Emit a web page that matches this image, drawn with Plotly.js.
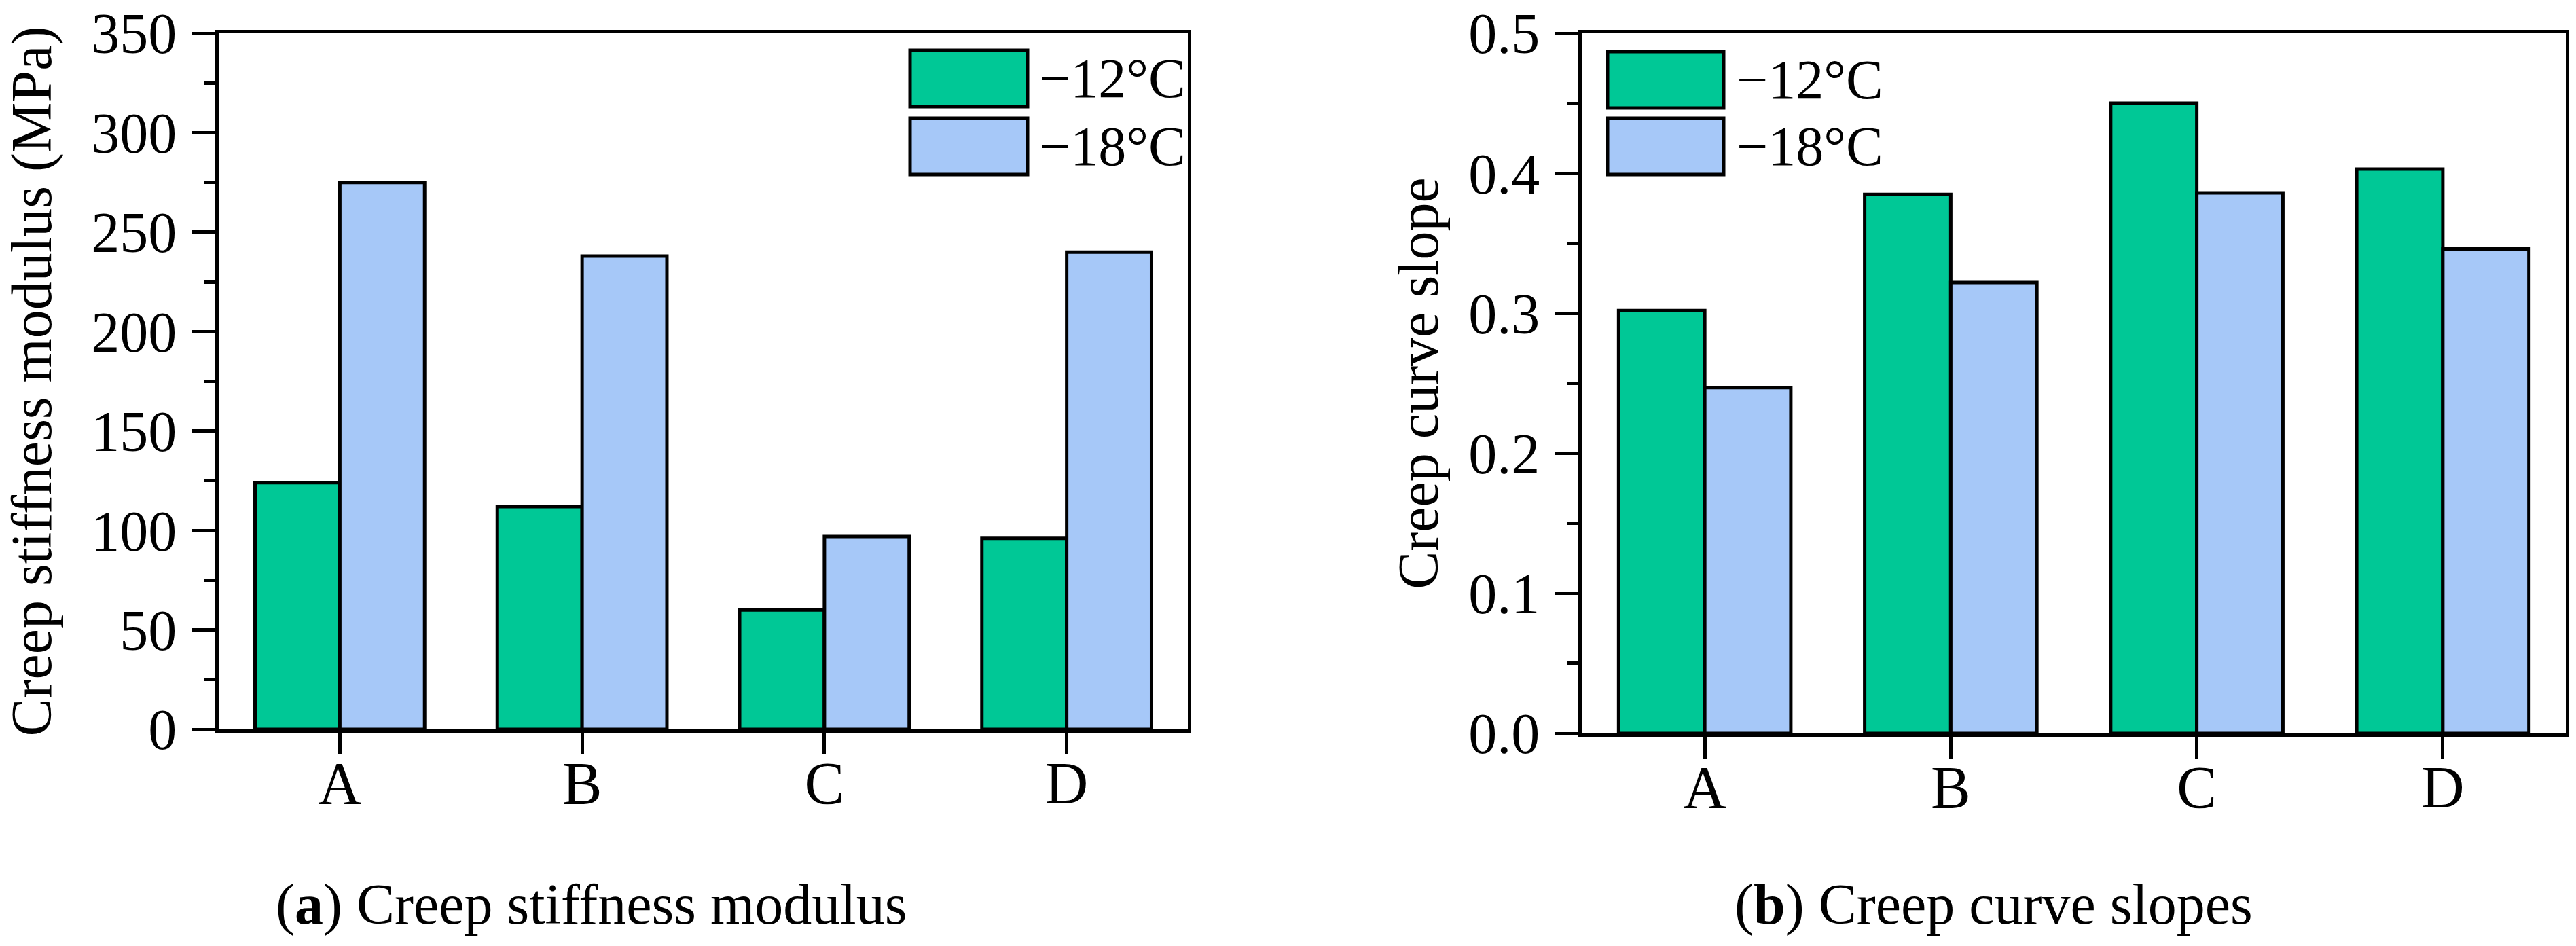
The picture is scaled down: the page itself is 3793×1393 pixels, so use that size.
<!DOCTYPE html>
<html>
<head>
<meta charset="utf-8">
<script src="https://cdn.plot.ly/plotly-3.0.1.min.js"></script>
<style>
  html, body { margin: 0; padding: 0; background: #fff; }
  #chart { width: 3793px; height: 1393px; }
</style>
</head>
<body>
<div id="chart"></div>
<script>
var CHART = document.getElementById('chart');

var categories = ['A', 'B', 'C', 'D'];
var tempNames = ['\u221212\u00b0C', '\u221218\u00b0C'];

// creep stiffness modulus (MPa)
var stiffness12 = [124, 112, 60, 96];
var stiffness18 = [275, 238, 97, 240];

// creep curve slope
var slope12 = [0.302, 0.385, 0.450, 0.403];
var slope18 = [0.247, 0.322, 0.386, 0.346];

var GREEN = '#00C896';
var BLUE = '#A6C8F8';
var FONT = 'Liberation Serif, Times New Roman, serif';

var W = 3793, H = 1393;
function px(x) { return x / W; }
function py(y) { return 1 - y / H; }

function bars(x, y, name, color, xa, ya) {
    return {
        type: 'bar',
        x: x,
        y: y,
        name: name,
        xaxis: xa,
        yaxis: ya,
        marker: {
            color: color,
            line: { color: '#000', width: 5 }
        },
        hoverinfo: 'x+y+name'
    };
}

var data = [
    bars(categories, stiffness12, tempNames[0], GREEN, 'x', 'y'),
    bars(categories, stiffness18, tempNames[1], BLUE, 'x', 'y'),
    bars(categories, slope12, tempNames[0], GREEN, 'x2', 'y2'),
    bars(categories, slope18, tempNames[1], BLUE, 'x2', 'y2')
];

function xAxis(domain, anchor) {
    return {
        domain: domain,
        anchor: anchor,
        type: 'category',
        range: [-0.5, 3.5],
        showline: true,
        mirror: true,
        linecolor: '#000',
        linewidth: 5,
        ticks: 'outside',
        ticklen: 32,
        tickwidth: 5,
        tickcolor: '#000',
        tickfont: { family: FONT, size: 88, color: '#000' },
        ticklabelstandoff: -34,
        showgrid: false,
        zeroline: false,
        fixedrange: true
    };
}

function yAxis(domain, anchor, range, dtick, fmt, title, standoff) {
    return {
        domain: domain,
        anchor: anchor,
        range: range,
        tick0: 0,
        dtick: dtick,
        tickformat: fmt,
        showline: true,
        mirror: true,
        linecolor: '#000',
        linewidth: 5,
        ticks: 'outside',
        ticklen: 34,
        tickwidth: 5,
        tickcolor: '#000',
        minor: { ticks: 'outside', ticklen: 16, tickwidth: 5, tickcolor: '#000', dtick: dtick / 2 },
        tickfont: { family: FONT, size: 84, color: '#000' },
        ticklabelstandoff: 6,
        ticklabeloverflow: 'allow',
        title: {
            text: title,
            font: { family: FONT, size: 84, color: '#000' },
            standoff: standoff
        },
        showgrid: false,
        zeroline: false,
        fixedrange: true
    };
}

// legend drawn as boxes + labels, like the original figure
function legendItems(x0, x1, rows, textX) {
    var shapes = [], notes = [];
    var colors = [GREEN, BLUE];
    rows.forEach(function (r, i) {
        shapes.push({
            type: 'rect', xref: 'paper', yref: 'paper',
            x0: px(x0), x1: px(x1), y0: py(r[1]), y1: py(r[0]),
            fillcolor: colors[i],
            line: { color: '#000', width: 5 }
        });
        notes.push({
            xref: 'paper', yref: 'paper',
            x: px(textX), y: py((r[0] + r[1]) / 2),
            xanchor: 'left', yanchor: 'middle',
            text: tempNames[i], showarrow: false,
            font: { family: FONT, size: 82, color: '#000' }
        });
    });
    return { shapes: shapes, notes: notes };
}

var legA = legendItems(1340, 1513, [[74, 157], [174, 257]], 1528);
var legB = legendItems(2367, 2538, [[76, 159], [174, 257]], 2555);

var captions = [
    {
        xref: 'paper', yref: 'paper', x: px(870), y: py(1332),
        xanchor: 'center', yanchor: 'middle', showarrow: false,
        text: '(<b>a</b>) Creep stiffness modulus',
        font: { family: FONT, size: 84, color: '#000' }
    },
    {
        xref: 'paper', yref: 'paper', x: px(2935), y: py(1332),
        xanchor: 'center', yanchor: 'middle', showarrow: false,
        text: '(<b>b</b>) Creep curve slopes',
        font: { family: FONT, size: 84, color: '#000' }
    }
];

var layout = {
    width: W,
    height: H,
    margin: { l: 0, r: 0, t: 0, b: 0 },
    paper_bgcolor: '#fff',
    plot_bgcolor: '#fff',
    showlegend: false,
    barmode: 'group',
    bargap: 0.3,
    bargroupgap: 0,
    font: { family: FONT, color: '#000' },
    xaxis: xAxis([px(322), px(1749)], 'y'),
    yaxis: yAxis([py(1074), py(49)], 'x', [0, 350], 50, 'd', 'Creep stiffness modulus (MPa)', 52),
    xaxis2: xAxis([px(2329), px(3778)], 'y2'),
    yaxis2: yAxis([py(1080), py(49)], 'x2', [0, 0.50001], 0.1, '.1f', 'Creep curve slope', 18),
    shapes: legA.shapes.concat(legB.shapes),
    annotations: legA.notes.concat(legB.notes).concat(captions)
};

var config = { responsive: false, displayModeBar: false };

Plotly.newPlot(CHART, data, layout, config);
</script>
</body>
</html>
